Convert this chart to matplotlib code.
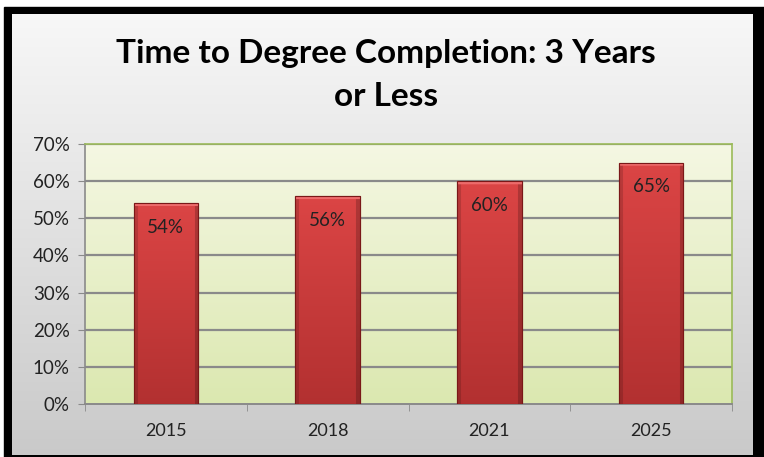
import numpy as np
import matplotlib
matplotlib.use('Agg')
import matplotlib.pyplot as plt
from matplotlib.patches import Rectangle
from matplotlib.ticker import FuncFormatter, FixedLocator

years = ['2015', '2018', '2021', '2025']
values = [54, 56, 60, 65]
title = 'Time to Degree Completion: 3 Years\nor Less'

plt.rcParams['font.family'] = ['Lato', 'DejaVu Sans']

W, H = 764, 457
fig = plt.figure(figsize=(W/100, H/100), dpi=100)
fig.patch.set_facecolor('white')

# black frame + grey gradient panel
bg = fig.add_axes([0, 0, 1, 1], zorder=0)
bg.axis('off')
bg.add_patch(Rectangle((4, 7), W-4, H-7, color='black'))
grad = np.linspace(0, 1, 256).reshape(-1, 1)
top_c = np.array([0.97, 0.97, 0.97]); bot_c = np.array([0.79, 0.79, 0.79])
img = top_c + (bot_c - top_c) * grad
bg.imshow(img.reshape(256, 1, 3), extent=(12, 753, 455, 14), aspect='auto', zorder=1)
bg.set_xlim(0, W); bg.set_ylim(H, 0)

ax = fig.add_axes([85/W, 53/H, 647/W, 260/H], zorder=2)
ax.set_facecolor('none')
x = np.arange(len(years))
ax.set_xlim(-0.5, len(years)-0.5)
ax.set_ylim(0, 70)

# plot area gradient
pa_top = np.array([0.96, 0.97, 0.89]); pa_bot = np.array([0.86, 0.91, 0.69])
pimg = pa_top + (pa_bot - pa_top) * grad
ax.imshow(pimg.reshape(256, 1, 3), extent=(-0.5, len(years)-0.5, 0, 70), aspect='auto', zorder=0)

for yv in range(10, 71, 10):
    ax.axhline(yv, color='#8a8a8a', lw=1.6, zorder=1)

bars = ax.bar(x, values, width=0.40, color='#d03c3c', edgecolor='#8a1c1c', lw=0.8, zorder=3)

# bevel-like shading on each bar
hx = np.linspace(0, 1, 80)
hshade = np.ones_like(hx)
hshade[hx < 0.06] = 0.85
hshade[hx > 0.94] = 0.80
for b in bars:
    bx, bw, bh = b.get_x(), b.get_width(), b.get_height()
    vy = np.linspace(0, 1, 200)
    base = np.array([0.86, 0.27, 0.27])
    dark = np.array([0.70, 0.19, 0.19])
    col = dark + (base - dark) * vy[:, None]
    col = np.repeat(col[:, None, :], len(hx), axis=1)
    col = col * hshade[None, :, None]
    col[-3:, :, :] = np.array([0.93, 0.42, 0.42])
    col = np.clip(col, 0, 1)
    im = ax.imshow(col, extent=(bx, bx+bw, 0, bh), origin='lower', aspect='auto', zorder=3.5)
    im.set_clip_path(b)
    ax.add_patch(Rectangle((bx, 0), bw, bh, fill=False, edgecolor='#7a1818', lw=0.8, zorder=4))
    ax.text(bx + bw/2, bh - 6.5, f'{int(bh)}%', ha='center', va='center', fontsize=13.5, color='#222222', zorder=5)

for s in ['top', 'right']:
    ax.spines[s].set_color('#9bbb59')
    ax.spines[s].set_linewidth(1.2)
ax.spines['bottom'].set_color('#8a8a8a')
ax.spines['bottom'].set_linewidth(1.4)
ax.spines['left'].set_color('#8a8a8a')
ax.spines['left'].set_linewidth(1.2)

ax.set_yticks(range(0, 71, 10))
ax.yaxis.set_major_formatter(FuncFormatter(lambda v, p: f'{int(v)}%'))
ax.set_xticks(x)
ax.set_xticklabels(years)
ax.xaxis.set_minor_locator(FixedLocator([-0.5, 0.5, 1.5, 2.5, 3.5]))
ax.tick_params(axis='x', which='major', length=0, pad=14, labelsize=13, labelcolor='#222222')
ax.tick_params(axis='x', which='minor', length=5, color='#8a8a8a', direction='out')
ax.tick_params(axis='y', length=5, color='#8a8a8a', labelsize=13.5, labelcolor='#222222', pad=6)

fig.text(386/W, 1 - 75/H, title, ha='center', va='center', fontsize=24, fontweight='bold',
         color='black', linespacing=1.6, zorder=5)

fig.savefig('out.png', dpi=100)
